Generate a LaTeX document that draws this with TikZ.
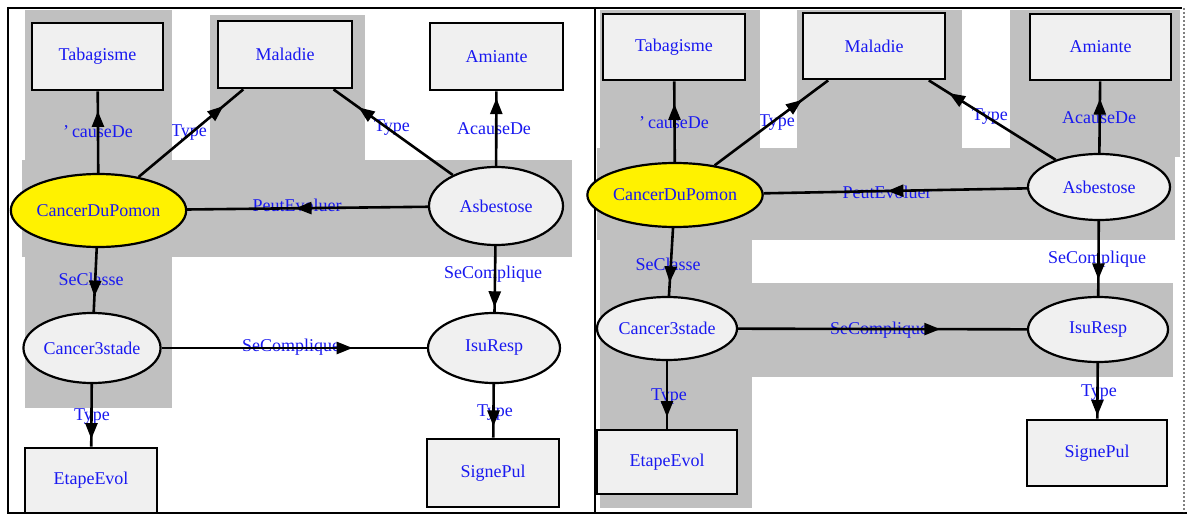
\documentclass[tikz,border=0pt]{standalone}
\usepackage{fontspec}
\setmainfont{Liberation Serif}
\usetikzlibrary{shapes.geometric,arrows.meta,decorations.markings}

\definecolor{panelgray}{RGB}{192,192,192}
\definecolor{nodefill}{RGB}{240,240,240}
\definecolor{labelblue}{RGB}{25,25,240}

\tikzset{
  txt/.style={text=labelblue, font=\fontsize{18}{20}\selectfont},
  concept/.style={txt, draw=black, line width=2.8pt, fill=nodefill, rectangle, inner sep=0pt},
  instance/.style={txt, draw=black, line width=2.2pt, fill=nodefill, ellipse, inner sep=0pt},
  focus/.style={instance, fill=yellow},
  rel/.style={txt, inner sep=0pt},
  link/.style={line width=2.6pt, postaction={decorate},
    decoration={markings, mark=at position #1 with {\arrow{Triangle[length=16pt,width=12pt]}}}},
  frameline/.style={line width=2.5pt, black},
}

\begin{document}
\begin{tikzpicture}[x=1pt,y=-1pt]
\useasboundingbox (0,0) rectangle (1188,516);
\fill[white] (0,0) rectangle (1188,516);

% labels lying partly under the shaded areas
\node[rel] (lTypeA) at (189,133) {Type};
\node[rel] (rTypeA) at (777,123) {Type};

% shaded areas, left view
\fill[panelgray] (25,10) rectangle (172,408);
\fill[panelgray] (210,15) rectangle (365,160);
\fill[panelgray] (22,160) rectangle (572,257);

% shaded areas, right view
\fill[panelgray] (600,10) rectangle (760,148);
\fill[panelgray] (797,10) rectangle (962,148);
\fill[panelgray] (1010,10) rectangle (1180,157);
\fill[panelgray] (597,148) rectangle (1175,240);
\fill[panelgray] (600,240) rectangle (752,508);
\fill[panelgray] (752,283) rectangle (1173,377);

% frame
\draw[frameline] (8,8) -- (1182,8);
\draw[frameline] (8,7) -- (8,514);
\draw[frameline] (7,513) -- (1187,513);
\draw[frameline] (595,8) -- (595,513);
\draw[gray, line width=2pt, dotted] (1184,8) -- (1184,512);

% relation labels, left view
\node[rel] (lCause) at (98,132) {'\,causeDe};
\node[rel] (lTypeB) at (392,128) {Type};
\node[rel] (lAcause) at (494,129) {AcauseDe};
\node[rel] (lPeut) at (297,205) {PeutEvoluer};
\node[rel] (lClasse) at (91,279) {SeClasse};
\node[rel] (lCompA) at (291,347) {SeComplique};
\node[rel] (lCompB) at (493,274) {SeComplique};
\node[rel] (lTypeC) at (92,417) {Type};
\node[rel] (lTypeD) at (495,413) {Type};

% relation labels, right view
\node[rel] (rCause) at (674,123) {'\,causeDe};
\node[rel] (rTypeB) at (990,117) {Type};
\node[rel] (rAcause) at (1099,118) {AcauseDe};
\node[rel] (rPeut) at (887,192) {PeutEvoluer};
\node[rel] (rClasse) at (668,264) {SeClasse};
\node[rel] (rCompA) at (879,330) {SeComplique};
\node[rel] (rCompB) at (1097,259) {SeComplique};
\node[rel] (rTypeC) at (669,397) {Type};
\node[rel] (rTypeD) at (1099,393) {Type};

% nodes, left view
\node[concept, minimum width=131, minimum height=67] (Ltab) at (97.5,56.5) {Tabagisme};
\node[concept, minimum width=134, minimum height=67] (Lmal) at (285,54.5) {Maladie};
\node[concept, minimum width=133, minimum height=67] (Lami) at (496.5,56.5) {Amiante};
\node[focus, minimum width=133, minimum height=73] (Lcdp) at (98.5,210.5) {CancerDuPomon};
\node[instance, minimum width=134, minimum height=78] (Lasb) at (496,206) {Asbestose};
\node[instance, minimum width=132, minimum height=70] (Lc3s) at (92,348) {Cancer3stade};
\node[instance, minimum width=132, minimum height=70] (Lisu) at (494,348) {IsuResp};
\node[concept, minimum width=132, minimum height=65] (Letp) at (91,480.5) {EtapeEvol};
\node[concept, minimum width=132, minimum height=68] (Lsgn) at (493,473) {SignePul};

% nodes, right view
\node[concept, minimum width=142, minimum height=66] (Rtab) at (674,47) {Tabagisme};
\node[concept, minimum width=142, minimum height=66] (Rmal) at (874,46) {Maladie};
\node[concept, minimum width=141, minimum height=66] (Rami) at (1100.5,47) {Amiante};
\node[focus, minimum width=140, minimum height=64] (Rcdp) at (675,195) {CancerDuPomon};
\node[instance, minimum width=142, minimum height=66] (Rasb) at (1099,187) {Asbestose};
\node[instance, minimum width=140, minimum height=63] (Rc3s) at (667,328.5) {Cancer3stade};
\node[instance, minimum width=140, minimum height=65] (Risu) at (1098,329.5) {IsuResp};
\node[concept, minimum width=140, minimum height=64] (Retp) at (667,462) {EtapeEvol};
\node[concept, minimum width=140, minimum height=66] (Rsgn) at (1097,453) {SignePul};

% connectors, left view
\draw[link=0.76] (Lcdp) -- (Ltab);
\draw[link=0.81] (Lcdp) -- (Lmal);
\draw[link=0.79] (Lasb) -- (Lmal);
\draw[link=0.91] (Lasb) -- (Lami);
\draw[link=0.55] (Lasb) -- (Lcdp);
\draw[link=0.76] (Lcdp) -- (Lc3s);
\draw[link=0.72] (Lc3s) -- (Lisu);
\draw[link=0.93] (Lasb) -- (Lisu);
\draw[link=0.88] (Lc3s) -- (Letp);
\draw[link=0.79] (Lisu) -- (Lsgn);

% connectors, right view
\draw[link=0.72] (Rcdp) -- (Rtab);
\draw[link=0.77] (Rcdp) -- (Rmal);
\draw[link=0.84] (Rasb) -- (Rmal);
\draw[link=0.76] (Rasb) -- (Rami);
\draw[link=0.53] (Rasb) -- (Rcdp);
\draw[link=0.80] (Rcdp) -- (Rc3s);
\draw[link=0.70] (Rc3s) -- (Risu);
\draw[link=0.78] (Rasb) -- (Risu);
\draw[link=0.83] (Rc3s) -- (Retp);
\draw[link=0.95] (Risu) -- (Rsgn);
\end{tikzpicture}
\end{document}
